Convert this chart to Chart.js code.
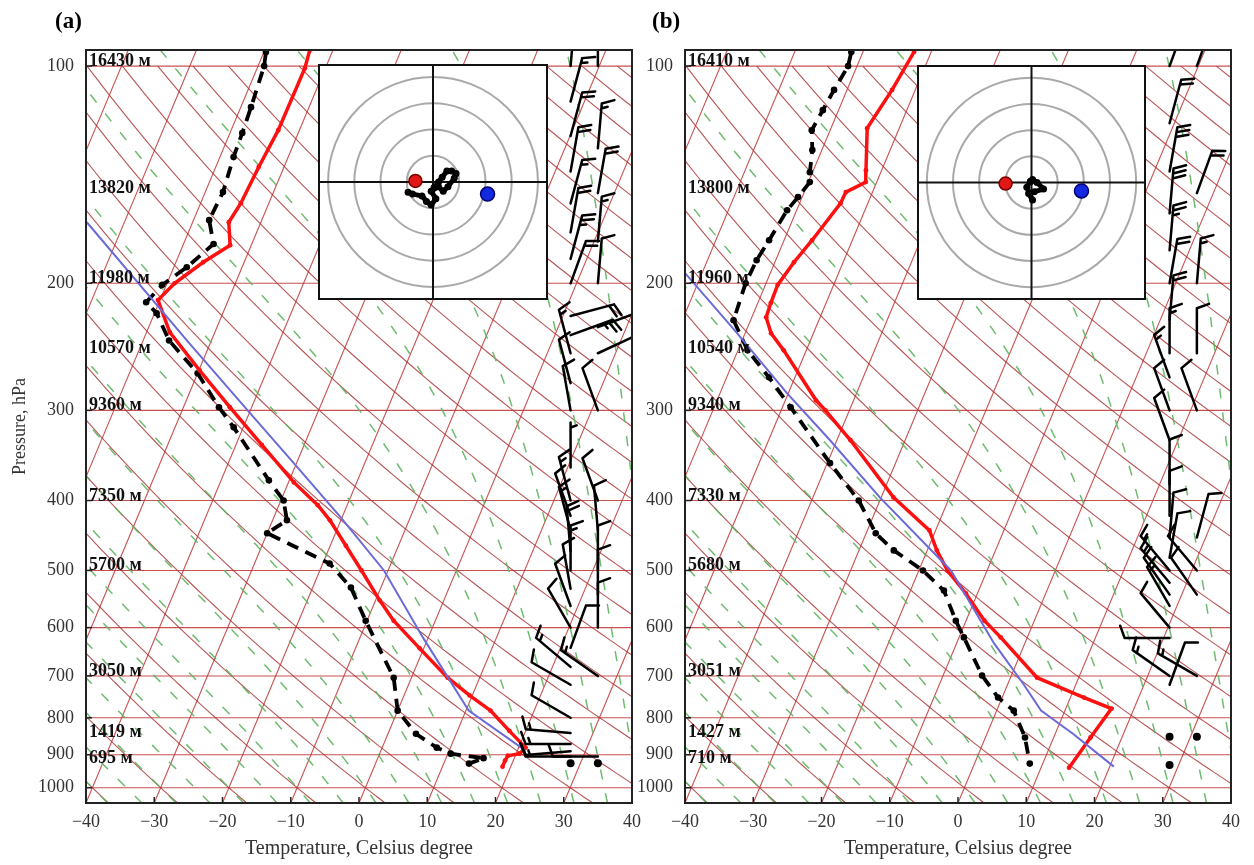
<!DOCTYPE html>
<html><head><meta charset="utf-8">
<script src="https://cdn.jsdelivr.net/npm/chart.js@4.4.1/dist/chart.umd.min.js"></script>
<style>
html,body{margin:0;padding:0;background:#fff;}
#wrap{position:relative;width:1254px;height:865px;overflow:hidden;background:#fff;}
canvas{position:absolute;}
</style></head><body>
<div id="wrap">
<canvas id="ska" width="660" height="865" style="left:0;top:0"></canvas>
<canvas id="skb" width="624" height="865" style="left:630px;top:0"></canvas>
<canvas id="hoa" width="230" height="236" style="left:318px;top:64px"></canvas>
<canvas id="hob" width="229" height="235" style="left:917px;top:65px"></canvas>
</div>
<script>
// ---------------- DATA ----------------
const pressureTicks = [100,200,300,400,500,600,700,800,900,1000];
const tempTicks = [-40,-30,-20,-10,0,10,20,30,40];
const heightLevels = [100,150,200,250,300,400,500,700,850,925];
const heightLabelsA = ['16430 м','13820 м','11980 м','10570 м','9360 м','7350 м','5700 м','3050 м','1419 м','695 м'];
const heightLabelsB = ['16410 м','13800 м','11960 м','10540 м','9340 м','7330 м','5680 м','3051 м','1427 м','710 м'];

// panel (a)
const tempA_p = [95,100.7,122.7,138,154.9,164.6,177.1,187,200,211,233.8,264,297,335,377.5,406,426,462,500,550,587,641,704,745,782,834,880,897,903,917,935];
const tempA_T = [-53.4,-53.0,-53.1,-53.7,-54.1,-54.7,-53.1,-56.0,-58.9,-60.3,-56.6,-49.9,-43.2,-36.2,-29.2,-24.3,-21.6,-17.7,-13.9,-9.4,-6.1,-0.6,5.3,9.6,13.6,17.6,21.0,20.5,18.9,18.8,18.8];
const dewA_p = [95.6,100,114,123.8,133.7,149.5,163.5,176.4,190,201,212.5,220,240,266.5,297,316.7,375,400,426,444,489,528,587,704,782,842,880,897,910,926];
const dewA_T = [-59.7,-59.1,-58.5,-58.2,-58.0,-57.4,-57.7,-55.6,-58.1,-60.6,-61.9,-59.7,-56.2,-50.0,-44.8,-41.4,-33.0,-29.6,-27.9,-30.0,-19.0,-14.4,-10.2,-2.6,0.0,4.1,8.0,10.4,15.5,13.7];
const parcelA_p = [888.5,782,619,500,422,355,300,240,164.6];
const parcelA_T = [21.2,10.4,-0.8,-10.6,-20.2,-30.4,-40.4,-53.6,-75.5];

// panel (b)
const tempB_p = [95.6,107.9,121.9,139.4,144.8,149.5,154.9,174.3,187,201,213,222.9,234.6,247.7,290.5,300,330,396,440,469,500,538,587,619,704,750,777,852,938];
const tempB_T = [-52.5,-53.4,-54.7,-52.3,-51.6,-53.9,-54.0,-55.9,-57.2,-58.2,-58.1,-57.9,-56.2,-53.3,-45.5,-43.5,-38.0,-28.2,-20.9,-18.6,-15.8,-11.7,-7.3,-3.9,3.9,12.0,16.7,15.4,14.1];
const dewB_p = [95.6,100,107.9,115.1,122.7,130.7,140.3,144.8,151.9,158.4,174.3,185.8,200,225,247.7,270,297,355,400,444,469,500,533,587,619,699,750,782,852,926];
const dewB_T = [-61.7,-61.3,-61.9,-62.3,-62.7,-61.4,-60.4,-59.8,-60.6,-61.4,-62.2,-62.8,-63.0,-62.5,-58.6,-53.8,-48.8,-39.6,-33.1,-28.6,-24.9,-19.4,-15.1,-11.5,-9.3,-4.3,-0.6,2.5,5.8,8.1];
const parcelB_p = [935,842,782,717,631,500,396,330,284,232,193.6];
const parcelB_T = [20.6,12.6,6.5,2.2,-4.5,-15.3,-30.2,-41.0,-50.2,-61.8,-72.5];

// hodographs (u, v)
const hodoA_u = [-9.5,-7.8,-4.2,-2.5,-0.7,1.1,-0.7,2.1,3.9,5.7,8.1,8.8,7.1,5.3,3.5,2.1,0.4];
const hodoA_v = [-3.9,-4.6,-5.3,-7.4,-8.8,-6.4,-3.5,-1.8,-3.5,-1.8,1.4,3.2,4.2,4.2,1.8,0.0,-2.1];
const hodoA_red = [-6.7,0.4];
const hodoA_blue = [20.8,-4.6];
const hodoB_u = [-0.4,0.4,2.1,4.6,1.1,-1.1,0.4,-1.8,-0.4];
const hodoB_v = [0.4,1.1,0.0,-2.5,-3.5,-4.2,-6.7,-1.8,0.4];
const hodoB_red = [-9.9,-0.4];
const hodoB_blue = [19.1,-3.2];
const hodoRings = [10,20,30,40];

// wind barbs: pressure, direction (deg, from), speed (kt), column (bottom-axis position)
const barbA_p   = [100,112,125,140,155,170,185,200,222,236,250,275,300,360,400,420,440,470,500,530,560,600,640,680,720,800,840,870,890,905,925, 100,130,150,175,200,230,250,300,400,440,500,540,600,700,905,925];
const barbA_dir = [5,15,15,10,15,10,15,20,75,70,345,345,350,0,345,340,345,355,0,350,340,330,20,310,300,300,275,270,265,270,0, 0,5,10,5,5,70,65,340,340,355,0,0,0,305,270,0];
const barbA_spd = [10,15,20,20,15,20,25,20,20,25,15,10,10,5,15,10,15,20,15,10,10,10,10,15,10,10,15,15,10,15,0, 10,15,20,15,10,15,15,10,10,10,10,10,10,15,10,0];
const barbA_col = [31,31,31,31,31,31,31,31,31,31,31,31,31,31,31,31,31,31,31,31,31,31,31,31,31,31,31,31,31,31,31, 35,35,35,35,35,35,35,35,35,35,35,35,35,35,35,35];
const barbB_p   = [100,120,140,160,180,200,225,250,270,300,330,380,420,450,480,500,520,540,560,600,620,700,720,850,930, 100,150,200,250,300,450,500,540,700,850];
const barbB_dir = [20,15,10,5,5,10,5,0,340,340,340,0,0,5,10,320,320,325,330,320,270,305,20,0,0, 20,20,5,0,340,15,320,325,300,0];
const barbB_spd = [15,20,30,30,25,20,20,15,15,10,10,10,10,10,10,15,15,10,15,10,10,15,10,0,0, 10,20,15,10,10,10,10,10,15,0];
const barbB_col = [31,31,31,31,31,31,31,31,31,31,31,31,31,31,31,31,31,31,31,31,31,31,31,31,31, 35,35,35,35,35,35,35,35,35,35];

// ---------------- SKEW-T GEOMETRY ----------------
const PMIN = 95, PMAX = 1050;
const SKEW = 80*Math.tan(30*Math.PI/180);
function skewX(T,p){ return T + SKEW*Math.log(PMAX/p)/Math.log(PMAX/PMIN); }
function pts(P,T){ return P.map((p,i)=>({x:skewX(T[i],p), y:p})); }

function moistAdiabat(T0c){
  const Rd=287.04, Cp=1005.7, Lv=2.501e6, eps=0.622;
  const f=(p,T)=>{const Tc=T-273.15; const es=6.112*Math.exp(17.67*Tc/(Tc+243.5)); const rs=eps*es/(p-es);
    return (Rd*T+Lv*rs)/(p*(Cp+Lv*Lv*rs*eps/(Rd*T*T)));};
  const out=[];
  let T=T0c+273.15, p=1000; const down=[];
  while(p<PMAX){const h=Math.min(5,PMAX-p); const k1=f(p,T),k2=f(p+h/2,T+h/2*k1),k3=f(p+h/2,T+h/2*k2),k4=f(p+h,T+h*k3); T+=h/6*(k1+2*k2+2*k3+k4); p+=h; down.push([p,T]);}
  down.reverse().forEach(a=>out.push(a));
  T=T0c+273.15; p=1000; out.push([p,T]);
  while(p>PMIN){const h=-Math.min(5,p-PMIN); const k1=f(p,T),k2=f(p+h/2,T+h/2*k1),k3=f(p+h/2,T+h/2*k2),k4=f(p+h,T+h*k3); T+=h/6*(k1+2*k2+2*k3+k4); p+=h; out.push([p,T]);}
  return out.map(a=>[a[0],a[1]-273.15]);
}
const moistLines = [];
for(let t=-40;t<=60;t+=5) moistLines.push(moistAdiabat(t));

function drawBarb(ctx,x,y,dir,spd){
  if(spd<2.5){ctx.beginPath();ctx.arc(x,y,4,0,2*Math.PI);ctx.fill();return;}
  const r=dir*Math.PI/180, dx=Math.sin(r), dy=-Math.cos(r), L=45;
  const tx=x+dx*L, ty=y+dy*L, px=-dy, py=dx, fl=13, sp=5;
  ctx.beginPath(); ctx.moveTo(x,y); ctx.lineTo(tx,ty);
  let s=spd, pos=0;
  while(s>=7.5){const bx=tx-dx*pos, by=ty-dy*pos; ctx.moveTo(bx,by); ctx.lineTo(bx+(px*0.94+dx*0.34)*fl, by+(py*0.94+dy*0.34)*fl); s-=10; pos+=sp;}
  if(s>=2.5){ if(pos===0) pos=sp; const bx=tx-dx*pos, by=ty-dy*pos; ctx.moveTo(bx,by); ctx.lineTo(bx+(px*0.94+dx*0.34)*fl*0.5, by+(py*0.94+dy*0.34)*fl*0.5);}
  ctx.stroke();
}

const skewPlugin = {
  id:'skew',
  beforeDatasetsDraw(chart,args,o){
    const {ctx,chartArea:a,scales:{x:xs,y:ys}}=chart;
    const X=(T,p)=>xs.getPixelForValue(skewX(T,p)), Y=p=>ys.getPixelForValue(p);
    ctx.save(); ctx.beginPath(); ctx.rect(a.left,a.top,a.right-a.left,a.bottom-a.top); ctx.clip();
    ctx.lineWidth=1.1; ctx.strokeStyle='rgba(190,50,50,0.85)';
    pressureTicks.forEach(p=>{ctx.beginPath();ctx.moveTo(a.left,Y(p));ctx.lineTo(a.right,Y(p));ctx.stroke();});
    for(let T=-150;T<=40;T+=10){ctx.beginPath();ctx.moveTo(X(T,PMAX),Y(PMAX));ctx.lineTo(X(T,PMIN),Y(PMIN));ctx.stroke();}
    ctx.strokeStyle='rgba(170,55,55,0.85)';
    for(let t0=-60;t0<=270;t0+=10){ctx.beginPath();
      for(let p=PMAX;p>=PMIN-1;p-=10){const pp=Math.max(p,PMIN); const T=(t0+273.15)*Math.pow(pp/1000,0.2857)-273.15; if(p===PMAX)ctx.moveTo(X(T,pp),Y(pp)); else ctx.lineTo(X(T,pp),Y(pp));}
      ctx.stroke();}
    ctx.strokeStyle='rgba(95,180,95,0.9)'; ctx.lineWidth=1.5; ctx.setLineDash([10,14]);
    moistLines.forEach(L=>{ctx.beginPath(); L.forEach((q,i)=>{const xx=X(q[1],q[0]), yy=Y(q[0]); if(i===0)ctx.moveTo(xx,yy); else ctx.lineTo(xx,yy);}); ctx.stroke();});
    ctx.restore();
  },
  afterDatasetsDraw(chart,args,o){
    const {ctx,chartArea:a,scales:{x:xs,y:ys}}=chart;
    ctx.save(); ctx.beginPath(); ctx.rect(a.left,a.top,a.right-a.left,a.bottom-a.top); ctx.clip();
    ctx.strokeStyle='#000'; ctx.fillStyle='#000'; ctx.lineWidth=2.5; ctx.lineCap='round';
    o.barbP.forEach((p,i)=>drawBarb(ctx,xs.getPixelForValue(o.barbCol[i]),ys.getPixelForValue(p),o.barbDir[i],o.barbSpd[i]));
    ctx.restore();
    ctx.save();
    ctx.fillStyle='#111'; ctx.font='bold 18px "Liberation Serif"'; ctx.textBaseline='alphabetic';
    heightLevels.forEach((p,i)=>ctx.fillText(o.heights[i],a.left+3,ys.getPixelForValue(p)));
    ctx.restore();
  },
  afterDraw(chart,args,o){
    const {ctx,chartArea:a,scales:{x:xs,y:ys}}=chart;
    ctx.save(); ctx.strokeStyle='#222'; ctx.lineWidth=2;
    ctx.strokeRect(a.left,a.top,a.right-a.left,a.bottom-a.top);
    ctx.lineWidth=1.5;
    tempTicks.forEach(v=>{const x=xs.getPixelForValue(v); ctx.beginPath(); ctx.moveTo(x,a.bottom); ctx.lineTo(x,a.bottom-6); ctx.stroke();});
    pressureTicks.forEach(v=>{const y=ys.getPixelForValue(v); ctx.beginPath(); ctx.moveTo(a.left,y); ctx.lineTo(a.left+6,y); ctx.stroke();});
    ctx.fillStyle='#000'; ctx.font='bold 23px "Liberation Serif"'; ctx.textBaseline='alphabetic';
    ctx.fillText(o.label,o.labelX,28);
    ctx.restore();
  }
};

Chart.defaults.font.family='"Liberation Serif","Times New Roman",serif';
Chart.defaults.color='#333';

function makeSkew(id,c){
  return new Chart(document.getElementById(id),{
    type:'scatter',
    data:{datasets:[
      {data:pts(c.parP,c.parT),showLine:true,borderColor:'#6a6ad8',borderWidth:2,pointRadius:0},
      {data:pts(c.tP,c.tT),showLine:true,borderColor:'#ff1010',borderWidth:3.5,pointRadius:2.4,pointBackgroundColor:'#ff1010',pointBorderWidth:0},
      {data:pts(c.dP,c.dT),showLine:true,borderColor:'#000',borderWidth:3.8,borderDash:[12,8],pointRadius:3.3,pointBackgroundColor:'#000',pointBorderWidth:0}
    ]},
    options:{
      responsive:false,animation:false,
      layout:{padding:{left:0,right:c.padR,top:50,bottom:0}},
      plugins:{legend:{display:false},tooltip:{enabled:false},
        skew:{barbP:c.bP,barbDir:c.bD,barbSpd:c.bS,barbCol:c.bC,heights:c.h,label:c.label,labelX:c.labelX}},
      scales:{
        x:{type:'linear',min:-40,max:40,grid:{display:false,drawTicks:false},border:{display:false},
          afterBuildTicks:s=>{s.ticks=tempTicks.map(v=>({value:v}));},
          afterFit:s=>{s.height=62;},
          ticks:{font:{size:18},color:'#333',padding:8,maxRotation:0,callback:v=>(v<0?'\u2212'+Math.abs(v):String(v))},
          title:{display:true,text:'Temperature, Celsius degree',font:{size:20},color:'#333',padding:{top:0,bottom:4}}},
        y:{type:'logarithmic',reverse:true,min:PMIN,max:PMAX,grid:{display:false,drawTicks:false},border:{display:false},
          afterBuildTicks:s=>{s.ticks=pressureTicks.map(v=>({value:v}));},
          afterFit:s=>{s.width=c.yW;},
          ticks:{font:{size:18},color:'#333',padding:12,callback:v=>String(v)},
          title:{display:c.yTitle,text:'Pressure, hPa',font:{size:18},color:'#333',padding:{top:9,bottom:0}}}
      }
    },
    plugins:[skewPlugin]
  });
}

makeSkew('ska',{parP:parcelA_p,parT:parcelA_T,tP:tempA_p,tT:tempA_T,dP:dewA_p,dT:dewA_T,
  bP:barbA_p,bD:barbA_dir,bS:barbA_spd,bC:barbA_col,h:heightLabelsA,label:'(a)',labelX:55,padR:28,yW:86,yTitle:true});
makeSkew('skb',{parP:parcelB_p,parT:parcelB_T,tP:tempB_p,tT:tempB_T,dP:dewB_p,dT:dewB_T,
  bP:barbB_p,bD:barbB_dir,bS:barbB_spd,bC:barbB_col,h:heightLabelsB,label:'(b)',labelX:22,padR:23,yW:55,yTitle:false});

// ---------------- HODOGRAPHS ----------------
const hodoPlugin={
  id:'hodo',
  beforeDraw(chart){const {ctx,width,height}=chart; ctx.save(); ctx.fillStyle='#fff'; ctx.fillRect(0,0,width,height); ctx.restore();},
  beforeDatasetsDraw(chart){
    const {ctx,scales:{x:xs,y:ys},width,height}=chart;
    const cx=xs.getPixelForValue(0), cy=ys.getPixelForValue(0);
    ctx.save(); ctx.strokeStyle='#a9a9a9'; ctx.lineWidth=2;
    hodoRings.forEach(r=>{const rad=Math.abs(xs.getPixelForValue(r)-cx); ctx.beginPath(); ctx.arc(cx,cy,rad,0,2*Math.PI); ctx.stroke();});
    ctx.strokeStyle='#111'; ctx.lineWidth=2;
    ctx.beginPath(); ctx.moveTo(0,cy); ctx.lineTo(width,cy); ctx.moveTo(cx,0); ctx.lineTo(cx,height); ctx.stroke();
    ctx.restore();
  },
  afterDraw(chart){const {ctx,width,height}=chart; ctx.save(); ctx.strokeStyle='#111'; ctx.lineWidth=2; ctx.strokeRect(1,1,width-2,height-2); ctx.restore();}
};
function makeHodo(id,u,v,red,blue,hx,hy){
  return new Chart(document.getElementById(id),{
    type:'scatter',
    data:{datasets:[
      {data:u.map((x,i)=>({x:x,y:v[i]})),showLine:true,borderColor:'#000',borderWidth:5,borderJoinStyle:'round',pointRadius:3.5,pointBackgroundColor:'#000',pointBorderWidth:0},
      {data:[{x:red[0],y:red[1]}],pointRadius:6.5,pointBackgroundColor:'#e01818',pointBorderColor:'#7a0000',pointBorderWidth:1.5},
      {data:[{x:blue[0],y:blue[1]}],pointRadius:7,pointBackgroundColor:'#1428e0',pointBorderColor:'#000070',pointBorderWidth:1.5}
    ]},
    options:{responsive:false,animation:false,layout:{padding:0},
      plugins:{legend:{display:false},tooltip:{enabled:false}},
      scales:{x:{display:false,min:-hx,max:hx},y:{display:false,min:-hy,max:hy}}},
    plugins:[hodoPlugin]
  });
}
makeHodo('hoa',hodoA_u,hodoA_v,hodoA_red,hodoA_blue,40.6,41.7);
makeHodo('hob',hodoB_u,hodoB_v,hodoB_red,hodoB_blue,40.5,41.5);
</script>
</body></html>
